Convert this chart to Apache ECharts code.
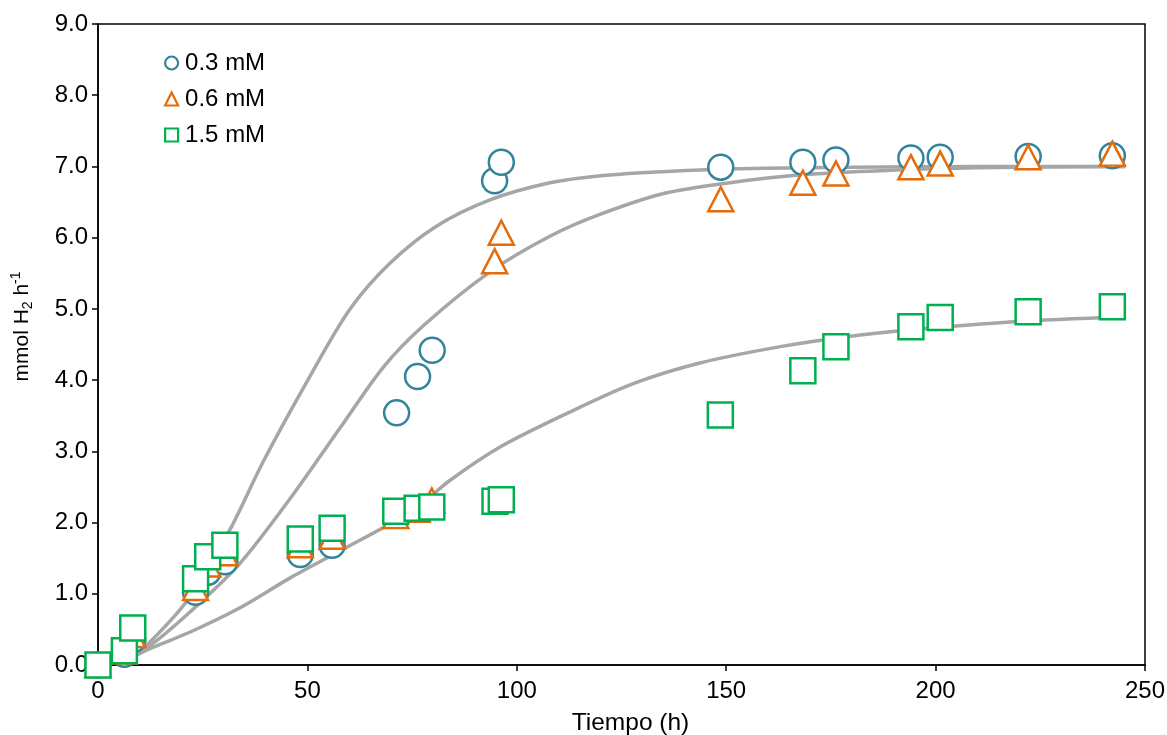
<!DOCTYPE html>
<html>
<head>
<meta charset="utf-8">
<title>mmol H2 h-1</title>
<script src="https://cdn.jsdelivr.net/npm/echarts@6/dist/echarts.min.js"></script>
<style>
  html, body { margin: 0; padding: 0; background: #fff; }
  #chart { width: 1167px; height: 735px; }
</style>
</head>
<body>
<div id="chart"></div>
<script>
// measured points (time in h, mmol H2 h-1)
const circles = [
  [0, 0], [6.3, 0.15], [8.3, 0.35], [23.3, 1.02], [26.2, 1.30], [30.3, 1.45],
  [48.3, 1.55], [55.9, 1.68], [71.3, 3.54], [76.3, 4.05], [79.8, 4.42],
  [94.7, 6.80], [96.3, 7.06], [148.7, 6.99], [168.3, 7.06], [176.2, 7.09],
  [194.1, 7.12], [201.1, 7.13], [222.1, 7.14], [242.2, 7.15]
];
const triangles = [
  [0, 0], [6.2, 0.19], [8.3, 0.42], [23.3, 1.08], [26.2, 1.41], [30.3, 1.57],
  [48.3, 1.68], [55.9, 1.80], [71.1, 2.09], [76.2, 2.18], [79.7, 2.31],
  [94.7, 5.67], [96.3, 6.07], [148.7, 6.54], [168.3, 6.77], [176.2, 6.90],
  [194.1, 6.99], [201.1, 7.04], [222.1, 7.13], [242.2, 7.18]
];
const squares = [
  [0, 0], [6.3, 0.20], [8.3, 0.52], [23.3, 1.21], [26.2, 1.52], [30.3, 1.68],
  [48.3, 1.77], [55.9, 1.92], [71.1, 2.16], [76.2, 2.20], [79.7, 2.22],
  [94.8, 2.30], [96.3, 2.32], [148.6, 3.51], [168.3, 4.13], [176.2, 4.47],
  [194.1, 4.75], [201.1, 4.88], [222.1, 4.96], [242.2, 5.03]
];

// fitted curves
const fit03 = [
  [6.3, 0.05], [12, 0.3], [21.9, 0.95], [31.5, 1.9], [39.4, 2.85], [50.1, 4.0],
  [60.1, 4.99], [69.7, 5.64], [80.8, 6.16], [93.6, 6.53], [107.9, 6.77],
  [120, 6.87], [135.8, 6.93], [155.7, 6.97], [180, 6.99], [210, 7.0], [245.3, 7.0]
];
const fit06 = [
  [6.3, 0.05], [12, 0.25], [21.9, 0.74], [33.8, 1.42], [45.8, 2.33], [57.7, 3.32],
  [68.1, 4.18], [77.6, 4.76], [93.6, 5.52], [107.9, 6.02], [120, 6.33],
  [135.8, 6.63], [155.7, 6.81], [170, 6.89], [186.8, 6.94], [210, 6.98], [245.3, 7.0]
];
const fit15 = [
  [6.3, 0.05], [12, 0.22], [21.9, 0.46], [33.8, 0.80], [45.8, 1.22], [57.7, 1.60],
  [75.2, 2.17], [84, 2.59], [96, 3.06], [111.9, 3.53], [127.8, 3.95], [143.7, 4.24],
  [162.9, 4.47], [178.8, 4.61], [194.7, 4.71], [218.6, 4.82], [245.3, 4.89]
];

const names = ['0.3 mM', '0.6 mM', '1.5 mM'];
const xTicks = { min: 0, max: 250, interval: 50 };
const yTicks = { min: 0, max: 9, interval: 1 };

const FONT = 'Liberation Sans, Arial, sans-serif';
const chart = echarts.init(document.getElementById('chart'));

function fitLine(data) {
  return {
    type: 'line', data: data, smooth: 0.3,
    showSymbol: false, silent: true,
    lineStyle: { color: '#a6a6a6', width: 3.5 }, z: 1
  };
}
function marks(name, data, symbol, size, color) {
  return {
    name: name, type: 'scatter', data: data, symbol: symbol, symbolSize: size,
    itemStyle: { color: '#fff', borderColor: color, borderWidth: 2.5, opacity: 1 },
    z: 3
  };
}

chart.setOption({
  animation: false,
  textStyle: { fontFamily: FONT },
  grid: {
    left: 98, right: 22, top: 24, bottom: 70,
    outerBoundsMode: 'none', containLabel: false,
    show: true, borderColor: '#000', borderWidth: 1.5
  },
  legend: {
    orient: 'vertical', left: 159, top: 46, itemGap: 12,
    itemWidth: 13, itemHeight: 13,
    data: names,
    textStyle: { fontSize: 24, color: '#000', fontFamily: FONT, padding: [0, 0, 0, 2] },
    itemStyle: { borderWidth: 2.2 }
  },
  xAxis: {
    type: 'value', min: xTicks.min, max: xTicks.max, interval: xTicks.interval,
    name: 'Tiempo (h)', nameLocation: 'middle', nameGap: 46,
    nameTextStyle: { fontSize: 24.5, color: '#000', fontFamily: FONT, padding: [0, 0, 0, 18] },
    axisLine: { lineStyle: { color: '#000', width: 1.5 } },
    axisTick: { show: true, length: 6, lineStyle: { color: '#000', width: 1.5 } },
    axisLabel: { fontSize: 24, color: '#000', margin: 14, fontFamily: FONT },
    splitLine: { show: false }
  },
  yAxis: {
    type: 'value', min: yTicks.min, max: yTicks.max, interval: yTicks.interval,
    name: '{a|mmol H}{sub|2}{a| h}{sup|-1}', nameLocation: 'middle', nameGap: 63,
    nameRotate: 90,
    nameTextStyle: {
      color: '#000', fontFamily: FONT, padding: [0, 0, 0, 36],
      rich: {
        a: { fontSize: 21, color: '#000', fontFamily: FONT, lineHeight: 26 },
        sub: { fontSize: 14, color: '#000', fontFamily: FONT, verticalAlign: 'bottom', lineHeight: 16 },
        sup: { fontSize: 14, color: '#000', fontFamily: FONT, verticalAlign: 'top', lineHeight: 14 }
      }
    },
    axisLine: { show: true, lineStyle: { color: '#000', width: 1.5 } },
    axisTick: { show: true, length: 6, lineStyle: { color: '#000', width: 1.5 } },
    axisLabel: {
      fontSize: 24, color: '#000', margin: 10, fontFamily: FONT,
      formatter: v => v.toFixed(1)
    },
    splitLine: { show: false }
  },
  series: [
    fitLine(fit03),
    fitLine(fit06),
    fitLine(fit15),
    marks(names[0], circles, 'circle', 25, '#31849b'),
    marks(names[1], triangles, 'triangle', [25, 24], '#e46c0a'),
    marks(names[2], squares, 'rect', 25, '#00b050')
  ]
});
</script>
</body>
</html>
